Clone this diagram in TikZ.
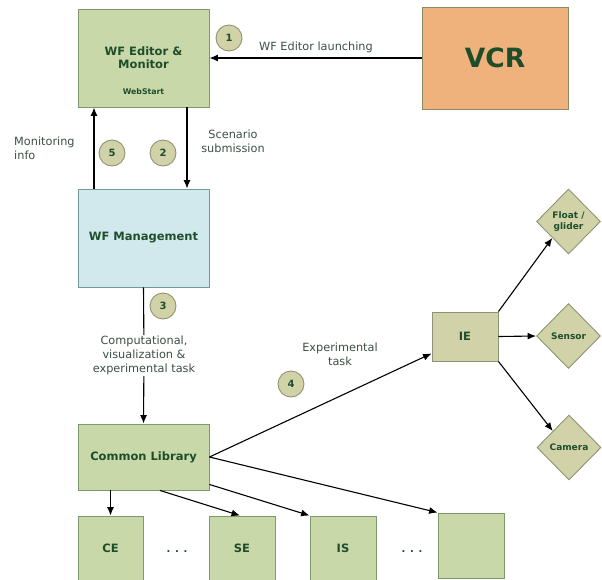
\documentclass[tikz,border=0pt]{standalone}
\usepackage{fontspec}
\setmainfont{DejaVu Sans}
\usetikzlibrary{shapes.geometric,arrows.meta,calc}
\definecolor{gfill}{HTML}{C8D8A9}
\definecolor{gdraw}{HTML}{7D9A6C}
\definecolor{bfill}{HTML}{D1E8EC}
\definecolor{bdraw}{HTML}{6E9A98}
\definecolor{ofill}{HTML}{F0B27D}
\definecolor{odraw}{HTML}{8C8A62}
\definecolor{kfill}{HTML}{D2D2A9}
\definecolor{kdraw}{HTML}{8E9472}
\definecolor{dgreen}{HTML}{1E4D2B}
\definecolor{lgray}{HTML}{3D4F44}
\tikzset{
  box/.style={draw=gdraw, fill=gfill, line width=0.9pt, inner sep=0pt, text=dgreen, font=\bfseries\fontsize{11.5}{13}\selectfont, align=center},
  dia/.style={diamond, draw=kdraw, fill=kfill, line width=0.9pt, inner sep=0pt, minimum width=64pt, minimum height=65pt, text=dgreen, font=\bfseries\fontsize{9}{11}\selectfont, align=center},
  num/.style={circle, draw=kdraw, fill=kfill, line width=0.9pt, minimum size=26pt, inner sep=0pt, text=dgreen, font=\bfseries\fontsize{10}{11}\selectfont},
  lbl/.style={text=lgray, font=\fontsize{11.3}{13.8}\selectfont, inner sep=0pt, align=center},
  arr/.style={line width=1.1pt, -{Latex[length=8.5pt,width=7pt]}},
  ln/.style={line width=1.1pt},
  dots/.style={text=dgreen, font=\bfseries\fontsize{10}{12}\selectfont, inner sep=0pt}
}
\begin{document}
\begin{tikzpicture}[x=1pt,y=-1pt]
\useasboundingbox (0,0) rectangle (602,579);
% boxes
\node[box, minimum width=131pt, minimum height=98pt] (wfe) at (143.5,58) {};
\node[text=dgreen, font=\bfseries\fontsize{11.5}{13}\selectfont, align=center, inner sep=0pt] (wfet) at (143.5,57.5) {WF Editor \&\\Monitor};
\node[text=dgreen, font=\bfseries\fontsize{7.8}{9}\selectfont, inner sep=0pt] (ws) at (143.5,92) {WebStart};
\node[box, draw=odraw, fill=ofill, minimum width=146pt, minimum height=102pt, font=\bfseries\fontsize{26.5}{30}\selectfont] (vcr) at (495,58) {VCR};
\node[box, draw=bdraw, fill=bfill, minimum width=131pt, minimum height=98pt] (wfm) at (143.5,238) {WF Management};
\node[box, minimum width=131pt, minimum height=66pt] (cl) at (143.5,457) {Common Library};
\node[box, minimum width=65pt, minimum height=64pt] (ce) at (110.5,548) {CE};
\node[box, minimum width=66pt, minimum height=64pt] (se) at (242,548) {SE};
\node[box, minimum width=66pt, minimum height=64pt] (is) at (343,548) {IS};
\node[box, minimum width=66pt, minimum height=65pt] (blank) at (471,545.5) {};
\node[box, draw=kdraw, fill=kfill, minimum width=66pt, minimum height=49pt] (ie) at (465,336.5) {IE};
\node[dia] (fl) at (568.5,221.5) {Float /\\glider};
\node[dia] (se2) at (568.5,336) {Sensor};
\node[dia] (cam) at (569,447.5) {Camera};
% dots
\node[dots] (d1) at (177,552) {. . .};
\node[dots] (d2) at (412,552) {. . .};
% numbered circles
\node[num] (n1) at (229,38) {1};
\node[num] (n2) at (163,153) {2};
\node[num] (n5) at (112,153) {5};
\node[num] (n3) at (163,306) {3};
\node[num] (n4) at (291,384) {4};
% labels
\node[lbl] (l1) at (316,47) {WF Editor launching};
\node[lbl] (l2) at (233,141.5) {Scenario\\submission};
\node[lbl, anchor=west, align=left] (l5) at (14,148) {Monitoring\\info};
\node[lbl] (l4) at (340,354) {Experimental\\task};
\node[lbl, fill=white, inner sep=1pt] (l3) at (144,355.5) {Computational,\\visualization \&\\experimental task};
% coordinates
\coordinate (xdown) at (187,0);
\coordinate (xup) at (94,0);
% connectors
\draw[arr] (vcr.west) -- (wfe.east);
\draw[arr] (wfe.south -| xdown) -- (wfm.north -| xdown);
\draw[arr] (wfm.north -| xup) -- (wfe.south -| xup);
\draw[ln] (wfm.south) -- (l3);
\draw[arr] (l3) -- (cl.north);
\draw[arr] (ce.north |- cl.south) -- (ce.north);
\draw[arr] ($(cl.south)+(16.5,0)$) -- ($(se.north)+(-2,0)$);
\draw[arr] ($(cl.south east)+(0,-6)$) -- (is.north west);
\draw[arr] (cl.east) -- (blank.north west);
\draw[arr] (cl.east) -- ($(ie.south west)+(0,-8)$);
\draw[arr] (ie.north east) -- (fl.south west);
\draw[arr] (ie.east) -- (se2.west);
\draw[arr] (ie.south east) -- (cam.north west);
\end{tikzpicture}
\end{document}
